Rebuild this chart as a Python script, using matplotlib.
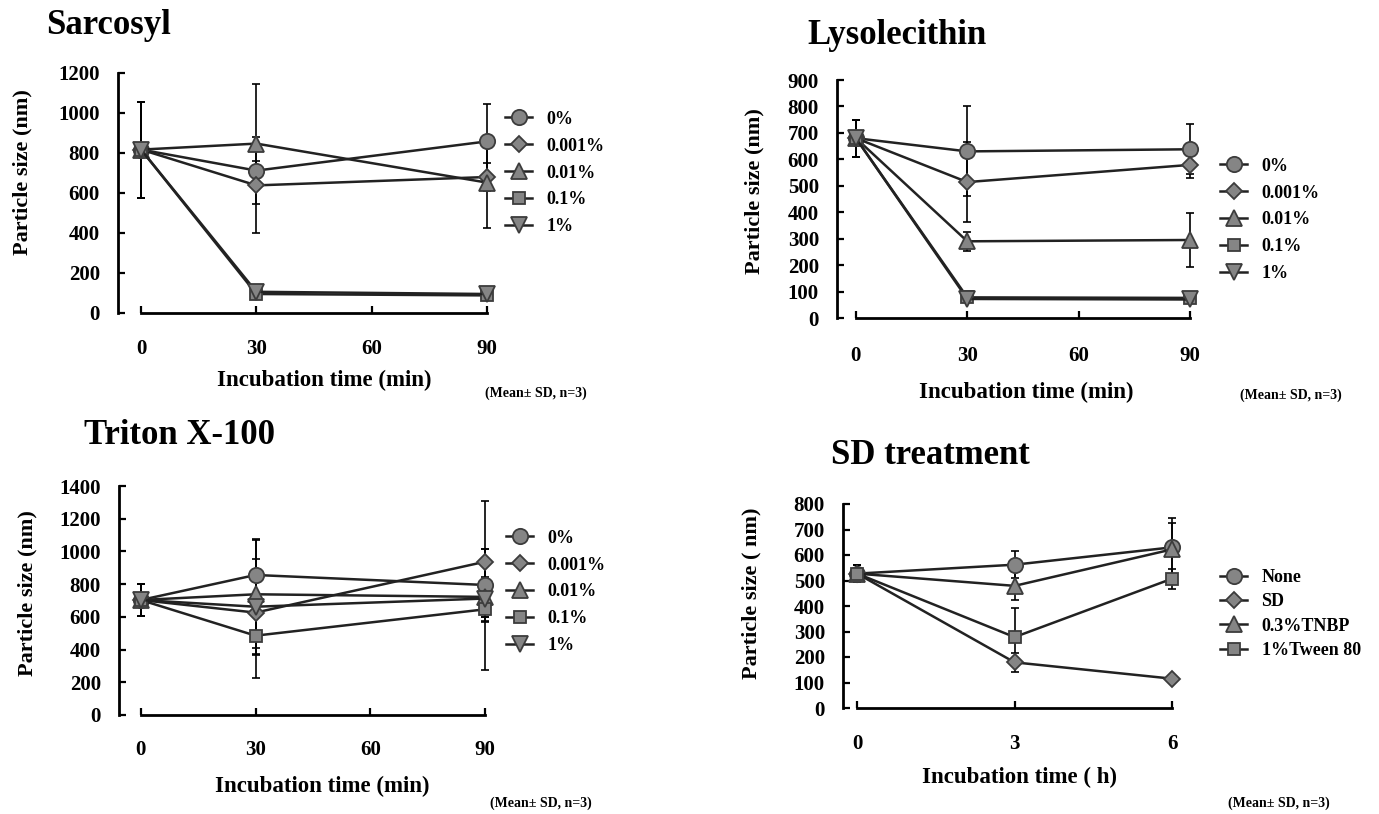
import matplotlib
matplotlib.use("Agg")
import matplotlib.pyplot as plt

plt.rcParams["font.family"] = ["Liberation Serif", "DejaVu Serif"]
plt.rcParams["font.weight"] = "bold"
plt.rcParams["axes.labelweight"] = "bold"

W, H = 1379, 814

# x axis categories of the three "min" panels
min_ticks = ["0", "30", "60", "90"]
min_times = ["0", "30", "90"]
conc_labels = ["0%", "0.001%", "0.01%", "0.1%", "1%"]

# Sarcosyl, particle size (nm) at 0, 30, 90 min
sarc_mean = [
    [817, 712, 858],
    [817, 638, 680],
    [817, 847, 652],
    [817, 95, 88],
    [817, 106, 95],
]
sarc_sd = [
    [240, 50, 185],
    [240, 240, 70],
    [240, 300, 228],
    [240, 10, 8],
    [240, 10, 8],
]

# Lysolecithin
lyso_mean = [
    [680, 630, 638],
    [680, 514, 579],
    [680, 290, 295],
    [680, 78, 76],
    [680, 72, 70],
]
lyso_sd = [
    [70, 170, 95],
    [70, 150, 50],
    [70, 35, 102],
    [70, 8, 8],
    [70, 8, 8],
]

# Triton X-100
trit_mean = [
    [703, 856, 795],
    [703, 626, 937],
    [703, 738, 722],
    [703, 485, 646],
    [703, 662, 712],
]
trit_sd = [
    [95, 220, 220],
    [95, 260, 370],
    [95, 330, 120],
    [95, 260, 370],
    [95, 290, 110],
]

# SD treatment, hours
sd_times = [0, 3, 6]
sd_labels = ["None", "SD", "0.3%TNBP", "1%Tween 80"]
sd_mean = [
    [527, 562, 630],
    [527, 179, 115],
    [527, 479, 622],
    [527, 278, 507],
]
sd_sd = [
    [33, 52, 115],
    [33, 38, 15],
    [33, 57, 105],
    [33, 115, 40],
]

markers = ["o", "D", "^", "s", "v"]
msizes = [11, 8.5, 11, 8, 11]
FACE = "#858585"
EDGE = "#3c3c3c"
LINE = "#222222"


def fx(px):
    return px / W


def fy(py):
    return 1 - py / H


def panel(fig, box, xlim, ylim, ystep, x, xticks, xticklabels, means, sds,
          labels, title, title_at, ylabel, ylabel_at, xlabel, xlabel_at,
          legend_at, spacing, note_at, xpad):
    left, right, top, bottom = box
    ax = fig.add_axes([fx(left), fy(bottom), (right - left) / W, (bottom - top) / H])

    handles = []
    for i, (m, s) in enumerate(zip(means, sds)):
        ax.errorbar(x, m, yerr=s, fmt="none", ecolor="black", elinewidth=1.2,
                    capsize=3, capthick=1.2, clip_on=False, zorder=2)
        ln, = ax.plot(x, m, color=LINE, lw=1.8, marker=markers[i], ms=msizes[i],
                      mfc=FACE, mec=EDGE, mew=1.3, clip_on=False, zorder=3)
        handles.append(ln)

    ax.set_xlim(*xlim)
    ax.set_ylim(*ylim)
    ax.set_yticks(range(0, ylim[1] + 1, ystep))
    ax.set_xticks(xticks)
    ax.set_xticklabels(xticklabels)

    for side in ["top", "right"]:
        ax.spines[side].set_visible(False)
    ax.spines["left"].set_linewidth(2)
    ax.spines["bottom"].set_linewidth(2)
    ax.spines["bottom"].set_bounds(xticks[0], xticks[-1])

    ax.tick_params(direction="in", length=5, width=1.6, labelsize=15)
    ax.tick_params(axis="x", pad=xpad)
    ax.tick_params(axis="y", pad=13)

    ax.set_ylabel(ylabel, fontsize=16, va="center", ha="center")
    ax.yaxis.set_label_coords(fx(ylabel_at[0]), fy(ylabel_at[1]), transform=fig.transFigure)
    ax.set_xlabel(xlabel, fontsize=16.5, va="center", ha="center")
    ax.xaxis.set_label_coords(fx(xlabel_at[0]), fy(xlabel_at[1]), transform=fig.transFigure)

    fig.text(fx(title_at[0]), fy(title_at[1]), title, fontsize=25, ha="center", va="center")
    fig.text(fx(note_at[0]), fy(note_at[1]), "(Mean\u00b1 SD, n=3)", fontsize=10,
             ha="left", va="center")

    ax.legend(handles, labels, loc="center left", bbox_to_anchor=(fx(legend_at[0]), fy(legend_at[1])),
              bbox_transform=fig.transFigure, frameon=False, borderpad=0, borderaxespad=0,
              handlelength=1.5, handletextpad=0.8, labelspacing=spacing,
              prop={"size": 13, "weight": "bold"})
    return ax


fig = plt.figure(figsize=(W / 100, H / 100), dpi=100)

pos = [min_ticks.index(t) for t in min_times]
tick_pos = list(range(len(min_ticks)))

panel(fig, (118, 487, 73, 313), (-0.2, 3), (0, 1200), 200, pos, tick_pos, min_ticks,
      sarc_mean, sarc_sd, conc_labels, "Sarcosyl", (109, 25),
      "Particle size (nm)", (22, 172), "Incubation time (min)", (324, 380),
      (505, 173), 0.55, (485, 393), 19)

panel(fig, (837, 1190, 80, 318), (-0.17, 3), (0, 900), 100, pos, tick_pos, min_ticks,
      lyso_mean, lyso_sd, conc_labels, "Lysolecithin", (897, 36),
      "Particle size (nm)", (754, 191), "Incubation time (min)", (1026, 392),
      (1220, 220), 0.55, (1240, 395), 20)

panel(fig, (119, 485, 486, 715), (-0.19, 3), (0, 1400), 200, pos, tick_pos, min_ticks,
      trit_mean, trit_sd, conc_labels, "Triton X-100", (180, 436),
      "Particle size (nm)", (27, 593), "Incubation time (min)", (322, 786),
      (506, 592), 0.55, (490, 803), 18)

panel(fig, (843, 1172, 504, 708), (-0.27, 6), (0, 800), 100, sd_times, sd_times,
      [str(t) for t in sd_times], sd_mean, sd_sd, sd_labels, "SD treatment", (930, 456),
      "Particle size ( nm)", (751, 593), "Incubation time ( h)", (1020, 777),
      (1220, 614), 0.4, (1228, 803), 18.5)

fig.savefig("out.png", dpi=100)
